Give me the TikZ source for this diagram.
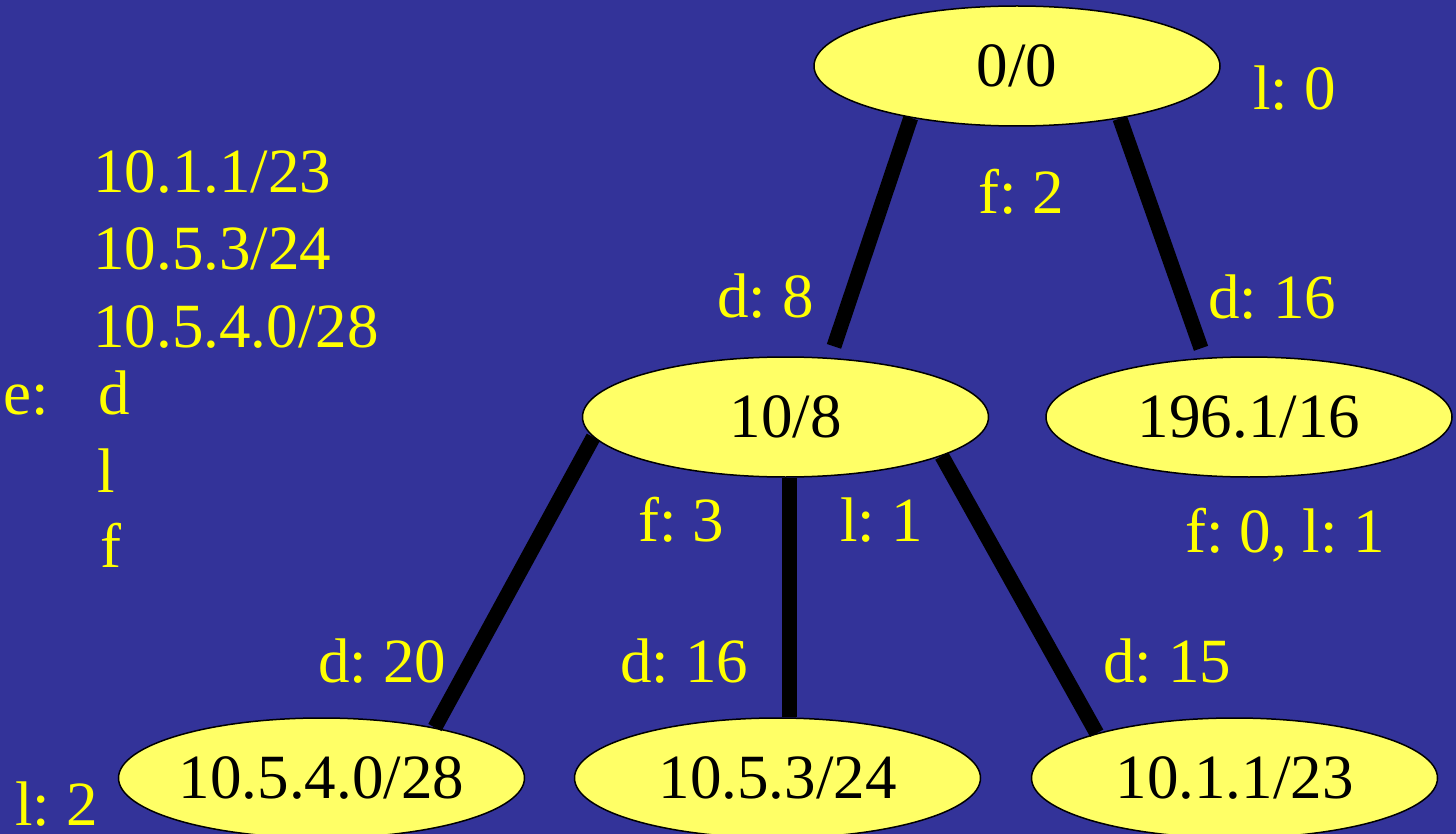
\documentclass[tikz,border=0pt]{standalone}
\usepackage{fontspec}
\setmainfont{Liberation Serif}
\usetikzlibrary{shapes.geometric}
\definecolor{slidebg}{RGB}{51,51,153}
\definecolor{nodefill}{RGB}{255,255,102}
\definecolor{labelyellow}{RGB}{255,255,0}
\frenchspacing
\begin{document}
\begin{tikzpicture}[x=0.5pt,y=-0.5pt,
  treenode/.style={ellipse, draw=black, line width=0.75pt, fill=nodefill,
    minimum width=203pt, minimum height=60pt, inner sep=0pt, text=black,
    font=\fontsize{31.5}{37}\selectfont},
  lbl/.style={anchor=base west, inner sep=0pt, text=labelyellow,
    font=\fontsize{31.5}{37}\selectfont\frenchspacing},
  link/.style={draw=black, line width=7.5pt}]
% slide background
\fill[slidebg] (0,0) rectangle (1456,834);
\useasboundingbox (0,0) rectangle (1456,834);

% prefix tree
\node[treenode] (root)  at (1017,66)    {0/0};
\node[treenode] (p108)  at (785.5,417)  {10/8};
\node[treenode] (p196)  at (1249,417)   {196.1/16};
\node[treenode] (p1054) at (321.5,778)  {10.5.4.0/28};
\node[treenode] (p1053) at (777.5,778)  {10.5.3/24};
\node[treenode] (p1011) at (1234.5,778) {10.1.1/23};

% tree links
\draw[link, shorten >=6pt] (root.206) -- (p108.53);
\draw[link, shorten >=5pt] (root.333) -- (p196.127);
\draw[link] (p108.186) -- (p1054.24);
\draw[link] (p1053.79 |- p108.south) -- (p1053.79);
\draw[link] (p108.346) -- (p1011.162);

% edge and node annotations
\node[lbl] (l0)   at (1253,110) {l: 0};
\node[lbl] (f2)   at (978,214)  {f: 2};
\node[lbl] (d8)   at (717,317)  {d: 8};
\node[lbl] (d16a) at (1208,318) {d: 16};
\node[lbl] (f3)   at (638,541)  {f: 3};
\node[lbl] (l1)   at (840,541)  {l: 1};
\node[lbl] (f0l1) at (1185,552) {f: 0, l: 1};
\node[lbl] (d20)  at (318,682)  {d: 20};
\node[lbl] (d16b) at (620,682)  {d: 16};
\node[lbl] (d15)  at (1103,682) {d: 15};
\node[lbl] (l2)   at (15,825)   {l: 2};

% lookup list and legend
\node[lbl] (q1) at (93,193) {10.1.1/23};
\node[lbl] (q2) at (93,270) {10.5.3/24};
\node[lbl] (q3) at (93,347) {10.5.4.0/28};
\node[lbl] (ekey) at (3,414) {e:};
\node[lbl] (ed) at (98,414) {d};
\node[lbl] (el) at (97,492) {l};
\node[lbl] (ef) at (100,567) {f};
\end{tikzpicture}
\end{document}
